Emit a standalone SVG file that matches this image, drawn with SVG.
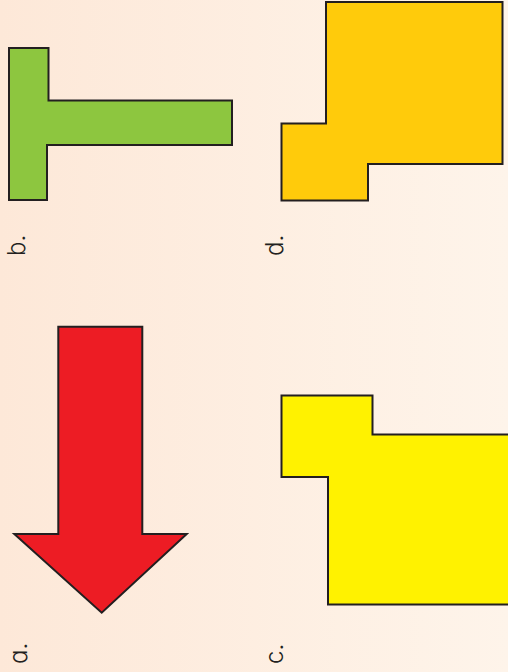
<svg xmlns="http://www.w3.org/2000/svg" width="508" height="672" viewBox="0 0 508 672">
  <defs>
    <linearGradient id="bg" x1="0" y1="0" x2="1" y2="0">
      <stop offset="0" stop-color="#FDE8D8"/>
      <stop offset="1" stop-color="#FEF4EA"/>
    </linearGradient>
    <style>
      .shape { stroke: #231F20; stroke-width: 2; stroke-linejoin: miter; }
      .lbl { font-family: Inter, "Liberation Sans", sans-serif; font-size: 24px; font-weight: 300; fill: #231F20; font-feature-settings: "cv11"; }
    </style>
  </defs>
  <rect x="0" y="0" width="508" height="672" fill="url(#bg)"/>

  <g id="shape-b">
    <polygon class="shape" fill="#8DC63F" points="9,48 48.5,48 48.5,100.5 232,100.5 232,145 47,145 47,200 9,200"/>
    <text class="lbl" transform="translate(25,256) rotate(-90)">b.</text>
  </g>

  <g id="shape-d">
    <polygon class="shape" fill="#FFCB0B" points="326,2 502.5,2 502.5,164 368,164 368,200.5 281.5,200.5 281.5,123.5 326,123.5"/>
    <text class="lbl" transform="translate(282.5,256) rotate(-90)">d.</text>
  </g>

  <g id="shape-a">
    <polygon class="shape" fill="#ED1C24" points="58.3,326.7 142.3,326.7 142.3,534 186.7,534 101.7,612.7 14.3,534 58.3,534"/>
    <text class="lbl" transform="translate(26.5,664) rotate(-90)">a.</text>
  </g>

  <g id="shape-c">
    <polygon class="shape" fill="#FFF200" points="281.5,395.5 372.5,395.5 372.5,434.5 510,434.5 510,604.5 328,604.5 328,477 281.5,477"/>
    <text class="lbl" transform="translate(282.5,664) rotate(-90)">c.</text>
  </g>

  <g id="connectors"></g>
</svg>
